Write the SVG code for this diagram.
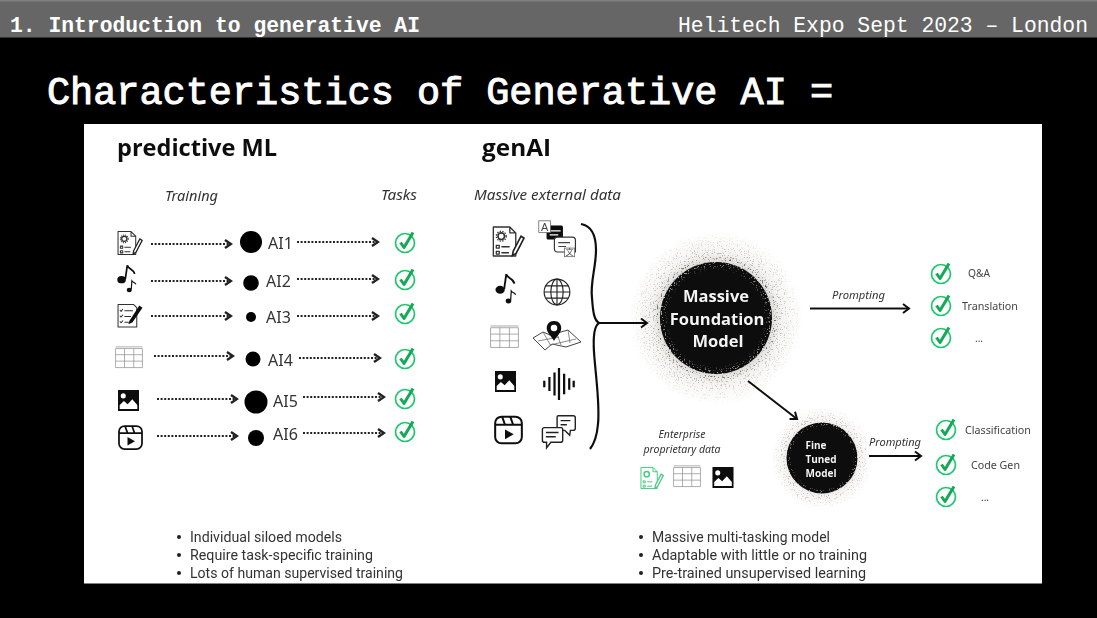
<svg xmlns="http://www.w3.org/2000/svg" width="1097" height="618" viewBox="0 0 1097 618">
<style>
.hdr{font-family:"Liberation Mono",monospace;fill:#fff}
.ui{font-family:"Noto Sans","Open Sans",sans-serif;fill:#2b2b2b}
.it{font-family:"Noto Sans","Open Sans",sans-serif;font-style:italic;fill:#333}
.h{font-family:"Open Sans","Noto Sans",sans-serif;font-weight:700;font-size:23px;fill:#111}
.lab{font-size:16px;fill:#333}
.sm{font-size:10px;fill:#444}
.bul{font-family:"Roboto","Noto Sans",sans-serif;font-size:14px;fill:#333}
.mw{font-family:"Open Sans","Noto Sans",sans-serif;font-weight:700;fill:#f4f4f4;text-anchor:middle}
.dot{stroke:#222;stroke-width:2.200;stroke-dasharray:2 1.600;fill:none;marker-end:url(#ah)}
.sol{stroke:#111;stroke-width:2;fill:none;marker-end:url(#ah2)}
.ln{fill:none;stroke:#333;stroke-width:4;stroke-linecap:round;stroke-linejoin:round}
</style>
<defs>
<marker id="ah" markerUnits="userSpaceOnUse" markerWidth="9" markerHeight="10" refX="7" refY="5" orient="auto"><path d="M1 1L7 5L1 9" fill="none" stroke="#222" stroke-width="2.400"/></marker>
<marker id="ah2" markerUnits="userSpaceOnUse" markerWidth="10" markerHeight="12" refX="8" refY="6" orient="auto"><path d="M2 1.500L8 6L2 10.500" fill="none" stroke="#111" stroke-width="2"/></marker>
<filter id="soft" x="0" y="0" width="1" height="1"><feGaussianBlur stdDeviation="0.35"/></filter>
<filter id="grain" x="-5%" y="-5%" width="110%" height="110%">
<feTurbulence type="fractalNoise" baseFrequency="0.75" numOctaves="2" seed="4" result="n"/>
<feColorMatrix in="n" type="matrix" values="0 0 0 0 0 0 0 0 0 0 0 0 0 0 0 0 0 0 9 -5.300" result="m"/>
<feComposite in="SourceGraphic" in2="m" operator="in"/>
</filter>
<radialGradient id="halo"><stop offset="0.64" stop-color="#222" stop-opacity="1"/><stop offset="0.71" stop-color="#7a756c" stop-opacity=".5"/><stop offset="1" stop-color="#a09a8e" stop-opacity="0"/></radialGradient>
<radialGradient id="haze"><stop offset="0.62" stop-color="#a8a49c" stop-opacity=".5"/><stop offset="0.75" stop-color="#d8d5ce" stop-opacity=".3"/><stop offset="1" stop-color="#e5e3dd" stop-opacity="0"/></radialGradient>
<radialGradient id="rim"><stop offset="0.82" stop-color="#fff" stop-opacity="0"/><stop offset="1" stop-color="#fff" stop-opacity="1"/></radialGradient>
<symbol id="check" viewBox="0 0 26 26" overflow="visible"><circle cx="12" cy="14" r="9.500" fill="none" stroke="#1fc86e" stroke-width="1.700"/><path d="M7.500 13.500L11 18.500L20 3.500" fill="none" stroke="#12a857" stroke-width="3" stroke-linejoin="round"/></symbol>
<symbol id="docg" viewBox="0 0 100 100"><path class="ln" d="M4 6H54L72 24V94H4ZM54 6V24H72"/><circle cx="28" cy="34" r="10" fill="none" stroke="#333" stroke-width="5"/><circle cx="28" cy="34" r="15" fill="none" stroke="#333" stroke-width="4" stroke-dasharray="4 4"/><path class="ln" d="M13 62h9v8h-9zM13 80h9v8h-9zM30 66H52M30 84H50"/><path d="M64 80L88 34L97 40L73 86L62 92Z" fill="#fff" stroke="#222" stroke-width="5"/></symbol>
<symbol id="docgG" viewBox="0 0 100 100"><path d="M4 6H54L72 24V94H4ZM54 6V24H72" fill="none" stroke="#3ecb7d" stroke-width="4"/><circle cx="28" cy="34" r="11" fill="none" stroke="#3ecb7d" stroke-width="6"/><path d="M13 62h9v8h-9zM13 80h9v8h-9zM30 66H52M30 84H50" fill="none" stroke="#3ecb7d" stroke-width="4"/><path d="M64 80L88 34L97 40L73 86L62 92Z" fill="#fff" stroke="#3ecb7d" stroke-width="5"/></symbol>
<symbol id="music" viewBox="0 0 70 100"><ellipse cx="16" cy="54" rx="15" ry="13" fill="#111"/><path d="M29 52L36 4C40 18 60 18 62 34" fill="none" stroke="#111" stroke-width="6"/><ellipse cx="43" cy="90" rx="9" ry="8" fill="#111"/><path d="M50 88L52 58C56 64 64 64 66 70" fill="none" stroke="#111" stroke-width="4"/></symbol>
<symbol id="list" viewBox="0 0 100 100"><path class="ln" d="M4 8H64L76 20V94H4Z"/><path class="ln" d="M12 30l4 4l6 -8M12 52l4 4l6 -8M12 74l4 4l6 -8M30 32H60M30 54H52M30 76H44"/><path d="M48 70L86 12L98 20L60 76L44 84Z" fill="#111"/></symbol>
<symbol id="table" viewBox="0 0 100 80"><path d="M2 2H98M2 8H98M2 8V76H98V8M2 30H98M2 53H98M34 8V76M67 8V76" fill="none" stroke="#888" stroke-width="2.400"/></symbol>
<symbol id="img" viewBox="0 0 100 100"><rect width="100" height="100" fill="#0a0a0a"/><circle cx="25" cy="28" r="12" fill="#fff"/><path d="M8 90V72L28 52L46 68L68 44L92 72V90Z" fill="#fff"/></symbol>
<symbol id="reel" viewBox="0 0 100 100"><rect x="4" y="4" width="92" height="92" rx="22" fill="#fff" stroke="#111" stroke-width="7"/><path d="M4 32H96M28 4L38 32M56 4L66 32" fill="none" stroke="#111" stroke-width="7"/><path d="M38 48L68 65L38 82Z" fill="#111"/></symbol>
<symbol id="globe" viewBox="0 0 100 100"><g fill="none" stroke="#222" stroke-width="4"><circle cx="50" cy="50" r="46"/><ellipse cx="50" cy="50" rx="22" ry="46"/><path d="M50 4V96M4 50H96M10 28H90M10 72H90"/></g></symbol>
<symbol id="map" viewBox="0 0 100 62"><path d="M2 36L22 24L36 30L72 20L98 44L68 54L40 48L26 60Z" fill="#fff" stroke="#444" stroke-width="2"/><path d="M22 24L38 52M50 28L58 50M72 20L76 46M12 42L54 34M36 50L88 38" fill="none" stroke="#666" stroke-width="1.500"/><path d="M44 2C32 2 28 12 30 20C32 28 40 34 44 42C48 34 56 28 58 20C60 12 56 2 44 2Z" fill="#111"/><circle cx="44" cy="16" r="6.500" fill="#fff"/></symbol>
<symbol id="wave" viewBox="0 0 100 100"><path d="M4 40V60M20 28V72M36 14V86M50 0V100M66 18V82M82 32V68M96 40V60" fill="none" stroke="#111" stroke-width="7"/></symbol>
<symbol id="chat" viewBox="0 0 100 100"><path d="M46 6Q46 2 50 2H92Q98 2 98 8V38Q98 44 92 44H84L82 58L68 44H52Q46 44 46 38Z" fill="#fff" stroke="#222" stroke-width="4"/><path d="M4 42Q4 36 10 36H58Q62 36 62 42V72Q62 78 56 78H28L16 94L16 78H10Q4 78 4 72Z" fill="#fff" stroke="#222" stroke-width="4"/><path d="M56 16H84M56 28H74M14 50H50M14 62H42" stroke="#222" stroke-width="4"/></symbol>
<symbol id="trans" viewBox="0 0 100 100"><rect x="22" y="14" width="42" height="36" rx="4" fill="#0a0a0a"/><path d="M30 28H58M30 38H52" stroke="#fff" stroke-width="3"/><rect x="2" y="2" width="30" height="30" fill="#fff" stroke="#666" stroke-width="2"/><text x="17" y="27" font-family="'Liberation Sans',sans-serif" font-size="28" text-anchor="middle" fill="#444">A</text><path d="M42 52Q42 44 50 44H88Q96 44 96 52V82H50Q42 82 42 74Z" fill="#fff" stroke="#333" stroke-width="3"/><path d="M52 58H82M52 68H72" stroke="#444" stroke-width="3"/><rect x="68" y="72" width="26" height="22" fill="#fff" stroke="#666" stroke-width="2"/><text x="81" y="91" font-family="'Noto Sans CJK SC',sans-serif" font-size="20" text-anchor="middle" fill="#444">文</text></symbol>
</defs>

<rect width="1097" height="618" fill="#000"/>
<rect id="headerBar" width="1097" height="37.500" fill="#666"/>
<rect width="1097" height="1.500" fill="#808080"/>
<text class="hdr" x="10" y="32" font-size="21.300" font-weight="700" textLength="410" lengthAdjust="spacingAndGlyphs">1. Introduction to generative AI</text>
<text class="hdr" x="678" y="32" font-size="21.300" textLength="410" lengthAdjust="spacingAndGlyphs">Helitech Expo Sept 2023 – London</text>
<text class="hdr" x="47" y="104" font-size="38.500" stroke="#fff" stroke-width="1" textLength="786" lengthAdjust="spacingAndGlyphs">Characteristics of Generative AI =</text>

<rect id="panel" x="84" y="124" width="958" height="459.500" fill="#fff"/>
<g filter="url(#soft)">
<text class="h" x="117" y="156" textLength="160" lengthAdjust="spacingAndGlyphs">predictive ML</text>
<text class="h" x="482" y="156" textLength="69" lengthAdjust="spacingAndGlyphs">genAI</text>
<text class="it" x="165" y="201" font-size="13.500" textLength="53" lengthAdjust="spacingAndGlyphs">Training</text>
<text class="it" x="381" y="200" font-size="13.500" textLength="36" lengthAdjust="spacingAndGlyphs">Tasks</text>
<text class="it" x="474" y="200" font-size="13.500" textLength="147" lengthAdjust="spacingAndGlyphs">Massive external data</text>

<g id="src-doc"><use href="#docg" x="117" y="230" width="26" height="26"/></g>
<g id="src-music"><use href="#music" x="117" y="264" width="20" height="29"/></g>
<g id="src-list"><use href="#list" x="117" y="302" width="26" height="27"/></g>
<g id="src-table"><use href="#table" x="115" y="346" width="28" height="23"/></g>
<g id="src-image"><use href="#img" x="118" y="390" width="21" height="21"/></g>
<g id="src-reel"><use href="#reel" x="118" y="425" width="25" height="25"/></g>

<g id="ai1"><circle cx="251" cy="242" r="11" fill="#000"/><text class="ui lab" x="268" y="249">AI1</text></g>
<g id="ai2"><circle cx="251" cy="283" r="7.800" fill="#000"/><text class="ui lab" x="266" y="287">AI2</text></g>
<g id="ai3"><circle cx="251" cy="317" r="5" fill="#000"/><text class="ui lab" x="266" y="323">AI3</text></g>
<g id="ai4"><circle cx="253" cy="359" r="7.500" fill="#000"/><text class="ui lab" x="268" y="366">AI4</text></g>
<g id="ai5"><circle cx="256" cy="402" r="11.500" fill="#000"/><text class="ui lab" x="273" y="407">AI5</text></g>
<g id="ai6"><circle cx="256" cy="438" r="8" fill="#000"/><text class="ui lab" x="273" y="440">AI6</text></g>

<g id="tasks-left">
<use href="#check" x="393" y="229" width="26" height="26"/>
<use href="#check" x="393" y="266" width="26" height="26"/>
<use href="#check" x="393" y="300" width="26" height="26"/>
<use href="#check" x="393" y="345" width="26" height="26"/>
<use href="#check" x="393" y="385" width="26" height="26"/>
<use href="#check" x="393" y="418" width="26" height="26"/>
</g>

<g id="ext-doc"><use href="#docg" x="492" y="225" width="33" height="33"/></g>
<g id="ext-trans"><use href="#trans" x="538" y="220" width="39" height="39"/></g>
<g id="ext-music"><use href="#music" x="495" y="273" width="22" height="31"/></g>
<g id="ext-globe"><use href="#globe" x="543" y="278" width="28" height="28"/></g>
<g id="ext-table"><use href="#table" x="490" y="325" width="29" height="24"/></g>
<g id="ext-map"><use href="#map" x="532" y="320" width="50" height="31"/></g>
<g id="ext-image"><use href="#img" x="495" y="371" width="21" height="21"/></g>
<g id="ext-wave"><use href="#wave" x="543" y="367" width="32" height="34"/></g>
<g id="ext-reel"><use href="#reel" x="494" y="415" width="29" height="30"/></g>
<g id="ext-chat"><use href="#chat" x="540" y="415" width="37" height="35"/></g>

<g id="massive-model">
<circle cx="716" cy="318" r="86" fill="url(#haze)"/>
<circle cx="716" cy="318" r="88" fill="url(#halo)" filter="url(#grain)"/>
<circle cx="716" cy="318" r="56" fill="#070707"/>
<circle cx="716" cy="318" r="58" fill="url(#rim)" filter="url(#grain)"/>
<text class="mw" x="716" y="302" font-size="16.500">Massive</text>
<text class="mw" x="717" y="324.500" font-size="16.500">Foundation</text>
<text class="mw" x="718" y="347" font-size="16.500">Model</text>
</g>
<g id="fine-tuned">
<circle cx="822" cy="458" r="50" fill="url(#haze)"/>
<circle cx="822" cy="458" r="52" fill="url(#halo)" filter="url(#grain)"/>
<circle cx="822" cy="458" r="35.500" fill="#070707"/>
<circle cx="822" cy="458" r="37" fill="url(#rim)" filter="url(#grain)"/>
<text class="mw" x="816" y="449" font-size="10">Fine</text>
<text class="mw" x="821" y="463" font-size="10">Tuned</text>
<text class="mw" x="821" y="477" font-size="10">Model</text>
</g>

<g id="connectors">
<path class="dot" d="M151 244H231"/><path class="dot" d="M297 242H378"/>
<path class="dot" d="M151 281H231"/><path class="dot" d="M297 279H378"/>
<path class="dot" d="M151 316H231"/><path class="dot" d="M297 316H378"/>
<path class="dot" d="M154 356H233"/><path class="dot" d="M299 358H380"/>
<path class="dot" d="M157 399H237"/><path class="dot" d="M303 397H384"/>
<path class="dot" d="M157 436H237"/><path class="dot" d="M303 433H384"/>
<path d="M581 224C592 226 596 236 596 250C596 268 590 282 592 298C593 312 594 320 599 323C594 326 593 336 594 352C596 380 600 404 598 424C597 436 594 444 590 449" fill="none" stroke="#111" stroke-width="2.200"/>
<path class="sol" d="M598 323H647"/>
<path class="sol" d="M810 308.500H909"/>
<path class="sol" d="M748 381L797 419"/>
<path class="sol" d="M869 456H921"/>
</g>

<text class="it" x="832" y="299" font-size="11" textLength="53" lengthAdjust="spacingAndGlyphs">Prompting</text>
<text class="it" x="869" y="446" font-size="11" textLength="52" lengthAdjust="spacingAndGlyphs">Prompting</text>

<g id="tasks-top">
<use href="#check" x="929" y="260" width="26" height="26"/>
<use href="#check" x="929" y="292" width="26" height="26"/>
<use href="#check" x="929" y="324" width="26" height="26"/>
<text class="ui sm" x="968" y="277" textLength="22" lengthAdjust="spacingAndGlyphs">Q&amp;A</text>
<text class="ui sm" x="962" y="310" textLength="56" lengthAdjust="spacingAndGlyphs">Translation</text>
<text class="ui sm" x="975" y="342">...</text>
</g>
<g id="tasks-bottom">
<use href="#check" x="934" y="416" width="26" height="26"/>
<use href="#check" x="934" y="451" width="26" height="26"/>
<use href="#check" x="934" y="483" width="26" height="26"/>
<text class="ui sm" x="965" y="434" textLength="66" lengthAdjust="spacingAndGlyphs">Classification</text>
<text class="ui sm" x="971" y="469" textLength="49" lengthAdjust="spacingAndGlyphs">Code Gen</text>
<text class="ui sm" x="981" y="501">...</text>
</g>

<g id="enterprise">
<text class="it" x="682" y="438" font-size="10.500" text-anchor="middle">Enterprise</text>
<text class="it" x="682" y="453" font-size="10.500" text-anchor="middle">proprietary data</text>
<use href="#docgG" x="640" y="465" width="24" height="26"/>
<use href="#table" x="673" y="465" width="28" height="23"/>
<use href="#img" x="712" y="467" width="22" height="21"/>
</g>

<g id="notes">
<circle cx="179" cy="537" r="2" fill="#222"/><circle cx="179" cy="555" r="2" fill="#222"/><circle cx="179" cy="573" r="2" fill="#222"/>
<text class="bul" x="190" y="542" textLength="152" lengthAdjust="spacingAndGlyphs">Individual siloed models</text>
<text class="bul" x="190" y="560" textLength="183" lengthAdjust="spacingAndGlyphs">Require task-specific training</text>
<text class="bul" x="190" y="578" textLength="213" lengthAdjust="spacingAndGlyphs">Lots of human supervised training</text>
<circle cx="641" cy="537" r="2" fill="#222"/><circle cx="641" cy="555" r="2" fill="#222"/><circle cx="641" cy="573" r="2" fill="#222"/>
<text class="bul" x="652" y="542" textLength="178" lengthAdjust="spacingAndGlyphs">Massive multi-tasking model</text>
<text class="bul" x="652" y="560" textLength="215" lengthAdjust="spacingAndGlyphs">Adaptable with little or no training</text>
<text class="bul" x="652" y="578" textLength="214" lengthAdjust="spacingAndGlyphs">Pre-trained unsupervised learning</text>
</g>
</g>
</svg>
